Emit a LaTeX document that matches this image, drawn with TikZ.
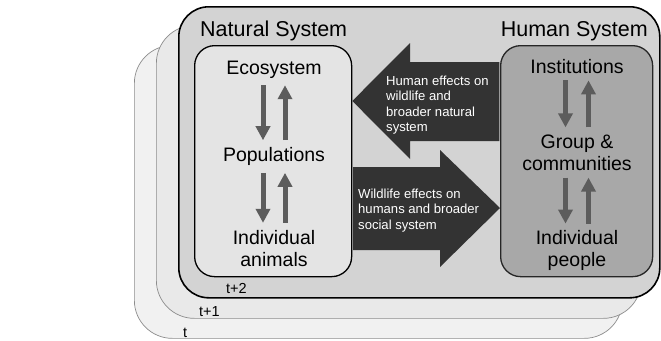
\documentclass[tikz,border=0pt]{standalone}
\usepackage{fontspec}
\setmainfont{Liberation Sans}
\usetikzlibrary{positioning,calc,arrows.meta}

\definecolor{bandT}{HTML}{F1F1F1}
\definecolor{bandTone}{HTML}{E9E9E9}
\definecolor{mainfill}{HTML}{D3D3D3}
\definecolor{natfill}{HTML}{E4E4E4}
\definecolor{humfill}{HTML}{A8A8A8}
\definecolor{arrowgray}{HTML}{5C5C5C}
\definecolor{arrowdark}{HTML}{333333}

\begin{document}
\begin{tikzpicture}[x=1pt,y=-1pt,
    layer/.style={draw=black!45, line width=0.7pt, rounded corners=38pt, anchor=north west},
    sysbox/.style={draw=black, line width=1.3pt, rounded corners=20pt, anchor=north west, minimum height=231pt},
    title/.style={font=\fontsize{21.5}{24}\selectfont, inner sep=0pt},
    level/.style={font=\fontsize{19.5}{22}\selectfont, align=center, inner sep=7pt},
    effect/.style={font=\fontsize{13.1}{15.5}\selectfont, align=left, text=white, inner sep=0pt, anchor=north west},
    tlabel/.style={font=\fontsize{14.5}{16}\selectfont, inner sep=0pt, anchor=base west},
    updown/.style={-{Triangle[width=14pt,length=14pt]}, line width=5pt, draw=arrowgray},
    bigarrow/.style={fill=arrowdark}]
    \useasboundingbox (0,0) rectangle (661,340);

    \node[layer, fill=bandT, minimum width=488pt, minimum height=293pt] (tbox) at (134,45) {};
    \node[layer, fill=bandTone, minimum width=485pt, minimum height=293pt] (tonebox) at (156,25) {};
    \node[draw=black, line width=1.6pt, rounded corners=30pt, fill=mainfill, anchor=north west,
          minimum width=481pt, minimum height=291pt] (mainbox) at (178,6) {};
    \node[tlabel] (lblT) at (183,337) {t};
    \node[tlabel] (lblTone) at (199,316) {t+1};
    \node[tlabel] (lblTtwo) at (226,293) {t+2};

    \node[title, anchor=base west] (natTitle) at (200,36) {Natural System};
    \node[title, anchor=base east] (humTitle) at (648,36) {Human System};

    \node[sysbox, fill=natfill, minimum width=157pt] (natbox) at (194,45) {};
    \node[sysbox, draw=black!85, fill=humfill, minimum width=152pt] (humbox) at (500,45) {};
    \path (natbox.east) coordinate (natE) (humbox.west) coordinate (humW);

    \fill[bigarrow] (natE |- 0,101) -- (410,43) -- (410,62) -- ($(humW |- 0,62)+(-0.7,0)$)
        -- ($(humW |- 0,141)+(-0.7,0)$) -- (410,141) -- (410,159) -- cycle;
    \fill[bigarrow] ($(natE |- 0,167)+(0.7,0)$) -- (440,167) -- (440,150) -- (humW |- 0,208)
        -- (440,267) -- (440,250) -- ($(natE |- 0,250)+(0.7,0)$) -- cycle;
    \node[effect] (humEffect) at (386,75.5) {Human effects on\\wildlife and\\broader natural\\system};
    \node[effect] (wildEffect) at (358,188.5) {Wildlife effects on\\humans and broader\\social system};

    \node[level, anchor=base] (eco) at (274,74) {Ecosystem};
    \node[level, below=55pt of eco] (pop) {Populations};
    \node[level, below=50pt of pop] (ind) {Individual\\animals};

    \node[level, anchor=base] (inst) at (577,73) {Institutions};
    \node[level, below=47pt of inst] (grp) {Group \&\\communities};
    \node[level, below=46pt of grp] (indp) {Individual\\people};

    \draw[updown] ([xshift=-11pt]eco.south) -- ([xshift=-11pt]pop.north);
    \draw[updown] ([xshift=11pt]pop.north) -- ([xshift=11pt]eco.south);
    \draw[updown] ([xshift=-11pt]pop.south) -- ([xshift=-11pt]ind.north);
    \draw[updown] ([xshift=11pt]ind.north) -- ([xshift=11pt]pop.south);
    \draw[updown] ([xshift=-11.5pt]inst.south) -- ([xshift=-11.5pt]grp.north);
    \draw[updown] ([xshift=11.5pt]grp.north) -- ([xshift=11.5pt]inst.south);
    \draw[updown] ([xshift=-11.5pt]grp.south) -- ([xshift=-11.5pt]indp.north);
    \draw[updown] ([xshift=11.5pt]indp.north) -- ([xshift=11.5pt]grp.south);
\end{tikzpicture}
\end{document}
